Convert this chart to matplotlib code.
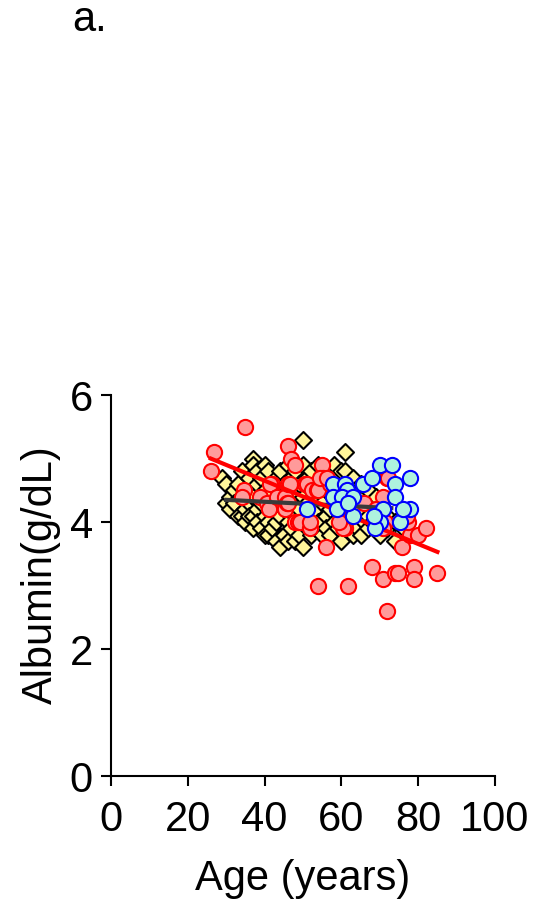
import numpy as np
import matplotlib
matplotlib.use("Agg")
import matplotlib.pyplot as plt

plt.rcParams['font.family'] = ['Liberation Sans', 'DejaVu Sans']

# Yellow diamonds (group 1)
yel_age = [29, 30, 30, 31, 31, 32, 32, 33, 33, 34, 34, 34, 35, 35, 35, 36, 36, 36,
           37, 37, 37, 37, 37, 38, 38, 38, 38, 39, 39, 39, 40, 40, 40, 40,
           41, 41, 41, 41, 42, 42, 42, 43, 43, 43, 43, 44, 44, 44, 44, 45, 45, 45,
           46, 46, 46, 46, 47, 47, 47, 48, 48, 48, 48, 49, 49, 49,
           50, 50, 50, 50, 50, 51, 51, 51, 52, 52, 52, 52, 53, 53, 53, 54, 54, 54,
           55, 55, 55, 56, 56, 56, 56, 57, 57, 57, 58, 58, 58, 59, 59, 59,
           60, 60, 60, 60, 61, 61, 61, 61, 62, 62, 62, 63, 63, 63, 64, 64, 64,
           65, 65, 65, 66, 66, 67, 67, 67, 68, 68, 69, 69, 70, 70, 72, 72, 74, 74, 76]
yel_alb = [4.7, 4.6, 4.3, 4.4, 4.2, 4.5, 4.3, 4.6, 4.1, 4.4, 4.1, 4.8, 4.5, 4.2, 4.0, 4.7, 4.3, 4.1,
           5.0, 4.9, 4.4, 4.1, 3.9, 4.8, 4.6, 4.2, 4.0, 4.7, 4.3, 3.9, 4.9, 4.5, 4.1, 3.8,
           4.8, 4.4, 4.0, 3.8, 4.6, 4.2, 3.9, 4.7, 4.3, 4.0, 3.7, 4.8, 4.5, 4.1, 3.6, 4.6, 4.2, 3.8,
           4.9, 4.4, 4.0, 3.7, 4.7, 4.3, 3.9, 4.8, 4.5, 4.1, 3.7, 4.6, 4.2, 3.8,
           5.3, 4.9, 4.4, 4.0, 3.6, 4.7, 4.3, 3.9, 4.8, 4.5, 4.1, 3.8, 4.6, 4.2, 3.9, 4.9, 4.4, 4.0,
           4.7, 4.3, 3.8, 4.8, 4.5, 4.1, 3.9, 4.6, 4.2, 3.8, 4.9, 4.4, 4.0, 4.7, 4.3, 3.9,
           4.8, 4.5, 4.1, 3.7, 5.1, 4.8, 4.2, 3.9, 4.6, 4.4, 4.0, 4.7, 4.3, 3.8, 4.5, 4.1, 3.9,
           4.6, 4.2, 3.8, 4.4, 4.0, 4.5, 4.1, 3.9, 4.3, 4.0, 4.4, 3.9, 4.2, 3.8, 4.1, 3.9, 4.0, 3.7, 3.9]
yel_fit_x = [30, 73]
yel_fit_y = [4.35, 4.22]

# Red circles (group 2)
red_age = [26.0, 26.9, 34.9, 34.7, 34.0, 38.8, 40.5, 41.1, 42.0, 41.4, 43.1, 45.3, 45.3, 45.8, 46.0,
           46.0, 46.6, 46.0, 47.0, 47.9, 47.9, 48.8, 49.2, 50.5, 51.0, 52.3, 53.6, 54.0, 54.9, 55.3,
           54.4, 57.0, 56.2, 51.8, 51.8, 55.9, 54.0, 61.8, 60.9, 60.5, 59.3, 65.9, 67.9, 70.9, 74.0,
           74.8, 78.9, 78.9, 84.8, 72.0, 75.9, 77.9, 80.0, 82.0, 77.4, 77.0, 70.9, 71.8, 72.2, 71.4,
           70.9, 69.0]
red_alb = [4.8, 5.1, 5.5, 4.5, 4.4, 4.4, 4.3, 4.2, 4.6, 4.6, 4.4, 4.4, 4.2, 4.3, 4.6,
           4.3, 4.6, 5.2, 5.0, 4.9, 4.0, 4.0, 4.0, 4.6, 4.6, 4.5, 4.5, 4.5, 4.9, 4.7,
           4.7, 4.6, 4.7, 3.9, 4.0, 3.6, 3.0, 3.0, 3.9, 3.9, 4.0, 4.3, 3.3, 3.1, 3.2,
           3.2, 3.3, 3.1, 3.2, 2.6, 3.6, 3.8, 3.8, 3.9, 4.0, 4.1, 4.4, 4.7, 4.7, 4.0,
           3.9, 4.2]
red_fit_x = [26, 85]
red_fit_y = [5.0, 3.53]

# Blue circles (group 3)
blu_age = [51.0, 57.9, 60.9, 61.4, 57.9, 60.1, 63.1, 58.8, 63.1, 61.8, 65.7, 67.9,
           70.1, 73.1, 77.9, 74.0, 74.0, 70.9, 70.1, 68.8, 75.3, 77.9, 76.1, 68.5]
blu_alb = [4.2, 4.6, 4.6, 4.5, 4.4, 4.4, 4.4, 4.2, 4.1, 4.3, 4.6, 4.7,
           4.9, 4.9, 4.7, 4.6, 4.4, 4.2, 4.0, 3.9, 4.0, 4.2, 4.2, 4.1]

xticks = [0, 20, 40, 60, 80, 100]
yticks = [0, 2, 4, 6]

fig = plt.figure(figsize=(5.38, 9.07), dpi=100)
ax = fig.add_axes([0.2063, 0.1444, 0.7138, 0.42])

ax.scatter(yel_age, yel_alb, marker='D', s=75, facecolor='#FFF59A',
           edgecolor='black', linewidth=1.5, zorder=2)
ax.scatter(red_age, red_alb, marker='o', s=120, facecolor='#FF9A9A',
           edgecolor='#FF0000', linewidth=1.5, zorder=3)
ax.plot(yel_fit_x, yel_fit_y, color='#3A3A3A', linewidth=3, zorder=4)
ax.plot(red_fit_x, red_fit_y, color='#FF0000', linewidth=3, zorder=5)
ax.scatter(blu_age, blu_alb, marker='o', s=120, facecolor='#AEF2DE',
           edgecolor='#0000FF', linewidth=1.5, zorder=6)

ax.set_xlim(0, 100)
ax.set_ylim(0, 6)
ax.set_xticks(xticks)
ax.set_yticks(yticks)
for s in ['top', 'right']:
    ax.spines[s].set_visible(False)
for s in ['left', 'bottom']:
    ax.spines[s].set_linewidth(1.5)
ax.tick_params(direction='out', length=7, width=1.5, labelsize=30)
ax.tick_params(axis='x', pad=10)
ax.tick_params(axis='y', pad=6)
ax.set_xlabel("Age (years)", fontsize=30, labelpad=14)
ax.set_ylabel("Albumin(g/dL)", fontsize=30)
ax.yaxis.set_label_coords(-0.13, 0.53)

fig.text(0.134, 0.966, "a.", fontsize=30)

fig.savefig("out.png", dpi=100)
